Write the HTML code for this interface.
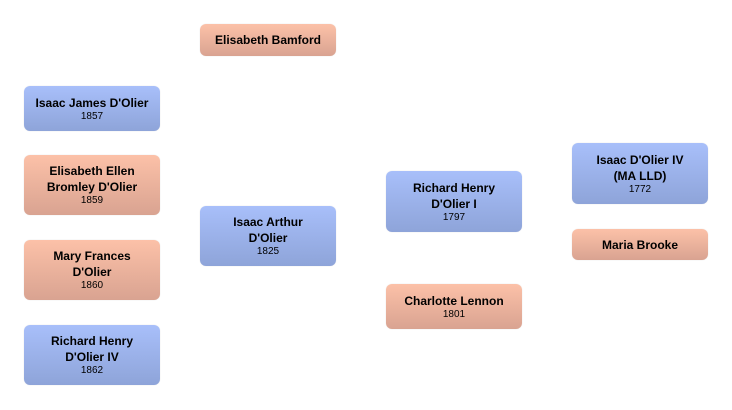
<!DOCTYPE html>
<html><head><meta charset="utf-8"><style>
html,body{margin:0;padding:0;background:#fff;width:732px;height:410px;overflow:hidden}
.b{position:absolute;width:136px;border-radius:6px;display:flex;flex-direction:column;justify-content:center;align-items:center;text-align:center;font-family:"Liberation Sans",sans-serif;color:#000;box-shadow:0 0 1px rgba(0,0,0,0.15)}
.m{background:linear-gradient(#a8bffa,#8ea4d9)}
.f{background:linear-gradient(#fcc1a8,#d9a391)}
.n{font-weight:bold;font-size:12px;line-height:16px}
.y{font-size:10px;line-height:12px}
</style></head><body>
<div class="b f" style="left:200px;top:24px;height:32px"><div class="n">Elisabeth Bamford</div></div>
<div class="b m" style="left:24px;top:86px;height:45px"><div class="n">Isaac James D'Olier</div><div class="y">1857</div></div>
<div class="b f" style="left:24px;top:155px;height:60px"><div class="n">Elisabeth Ellen<br>Bromley D'Olier</div><div class="y">1859</div></div>
<div class="b f" style="left:24px;top:240px;height:60px"><div class="n">Mary Frances<br>D'Olier</div><div class="y">1860</div></div>
<div class="b m" style="left:24px;top:325px;height:60px"><div class="n">Richard Henry<br>D'Olier IV</div><div class="y">1862</div></div>
<div class="b m" style="left:200px;top:206px;height:60px"><div class="n">Isaac Arthur<br>D'Olier</div><div class="y">1825</div></div>
<div class="b m" style="left:386px;top:171px;height:61px"><div class="n">Richard Henry<br>D'Olier I</div><div class="y">1797</div></div>
<div class="b f" style="left:386px;top:284px;height:45px"><div class="n">Charlotte Lennon</div><div class="y">1801</div></div>
<div class="b m" style="left:572px;top:143px;height:61px"><div class="n">Isaac D'Olier IV<br>(MA LLD)</div><div class="y">1772</div></div>
<div class="b f" style="left:572px;top:229px;height:31px"><div class="n">Maria Brooke</div></div>
</body></html>
